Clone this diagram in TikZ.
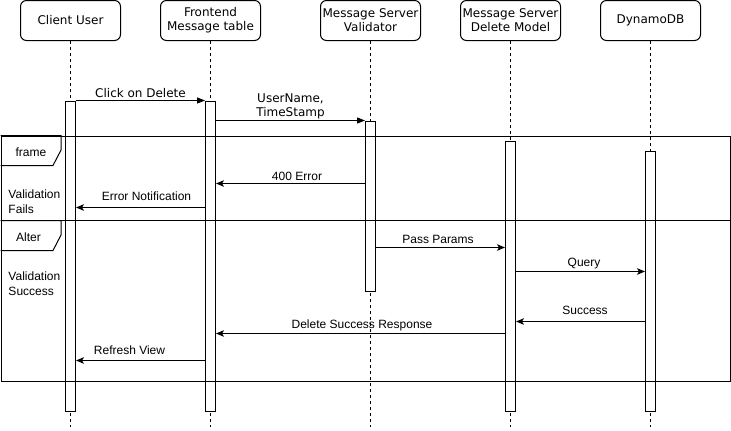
\documentclass[tikz,border=0pt]{standalone}
\usepackage{fontspec}
\setmainfont{Liberation Sans}
\newfontfamily\verd{DejaVu Sans}
\usetikzlibrary{arrows.meta}
\begin{document}
\begin{tikzpicture}[x=1pt,y=-1pt,line width=1pt,
  hdr/.style={draw, rounded corners=6pt, minimum width=100pt, minimum height=40pt, fill=white, align=center, font=\verd\fontsize{12}{14}\selectfont, inner sep=0pt},
  life/.style={dash pattern=on 3pt off 3pt, line width=1pt},
  act/.style={draw, fill=white, minimum width=10pt, anchor=north, inner sep=0pt},
  msgb/.style={-{Triangle[length=8pt,width=6pt]}},
  msgc/.style={-{Stealth[length=8pt,width=6.5pt,inset=2pt]}},
  lbl/.style={font=\fontsize{12}{14}\selectfont, inner sep=0pt, anchor=base},
  vlbl/.style={font=\verd\fontsize{12}{14}\selectfont, inner sep=0pt, align=center},
  side/.style={font=\fontsize{12}{14.5}\selectfont, inner sep=0pt, align=left, anchor=north west},
]
\useasboundingbox (0,0) rectangle (731,431);
% headers
\node[hdr] (h1) at (70.5,20.5) {Client User};
\node[hdr] (h2) at (210.5,20.5) {Frontend\\Message table};
\node[hdr] (h3) at (370.5,20.5) {Message Server\\Validator};
\node[hdr] (h4) at (510.5,20.5) {Message Server\\Delete Model};
\node[hdr] (h5) at (650.5,20.5) {DynamoDB};
% lifeline ends
\coordinate (e1) at (70.5,427);
\coordinate (e2) at (210.5,427);
\coordinate (e3) at (370.5,427);
\coordinate (e4) at (510.5,427);
\coordinate (e5) at (650.5,427);
\draw[life] (h1.south) -- (e1);
\draw[life] (h2.south) -- (e2);
\draw[life] (h3.south) -- (e3);
\draw[life] (h4.south) -- (e4);
\draw[life] (h5.south) -- (e5);
% activations
\node[act, minimum height=310pt] (a1) at (70.5,100.5) {};
\node[act, minimum height=310pt] (a2) at (210.5,100.5) {};
\node[act, minimum height=170pt] (a3) at (370.5,120.5) {};
\node[act, minimum height=270pt] (a4) at (510.5,140.5) {};
\node[act, minimum height=260pt] (a5) at (650.5,150.5) {};
% frame
\node[draw, minimum width=729pt, minimum height=245pt, anchor=north west, inner sep=0pt] (frm) at (0.5,135.5) {};
\draw (frm.west |- 0,220.5) -- (frm.east |- 0,220.5);
\draw (frm.north west) -| (61,150) -- (53,165.5) -- (frm.west |- 0,165.5);
\draw (frm.west |- 0,220.5) -| (61,235) -- (53,250.5) -- (frm.west |- 0,250.5);
\node[lbl] (ft) at (31,156.5) {frame};
\node[lbl] (at) at (28.5,241) {Alter};
\node[side] (vf) at (8,189.5) {Validation\\Fails};
\node[side] (vs) at (8,271.5) {Validation\\Success};
% messages
\draw[msgb] (a1.north east) -- (a2.north west) node[vlbl, midway, anchor=base, yshift=3pt] {Click on Delete};
\draw[msgb] (a2.east |- 0,120.5) -- (a3.north west) node[vlbl, midway, anchor=south, yshift=1pt] {UserName,\\TimeStamp};
\draw[msgc] (a3.west |- 0,183.5) -- (a2.east |- 0,183.5) node[lbl, midway, yshift=3pt, xshift=6.5pt] {400 Error};
\draw[msgc] (a2.west |- 0,207.5) -- (a1.east |- 0,207.5) node[lbl, midway, yshift=7pt, xshift=6pt] {Error Notification};
\draw[msgc] (a3.east |- 0,247.5) -- (a4.west |- 0,247.5) node[lbl, midway, yshift=4.5pt, xshift=-2.5pt] {Pass Params};
\draw[msgc] (a4.east |- 0,271.5) -- (a5.west |- 0,271.5) node[lbl, midway, yshift=5pt, xshift=3.5pt] {Query};
\draw[msgc] (a5.west |- 0,321.5) -- (a4.east |- 0,321.5) node[lbl, midway, yshift=7.5pt, xshift=4.5pt] {Success};
\draw[msgc] (a4.west |- 0,333.5) -- (a2.east |- 0,333.5) node[lbl, midway, yshift=5pt, xshift=1.5pt] {Delete Success Response};
\draw[msgc] (a2.west |- 0,360.5) -- (a1.east |- 0,360.5) node[lbl, midway, yshift=6.5pt, xshift=-11pt] {Refresh View};
\end{tikzpicture}
\end{document}
